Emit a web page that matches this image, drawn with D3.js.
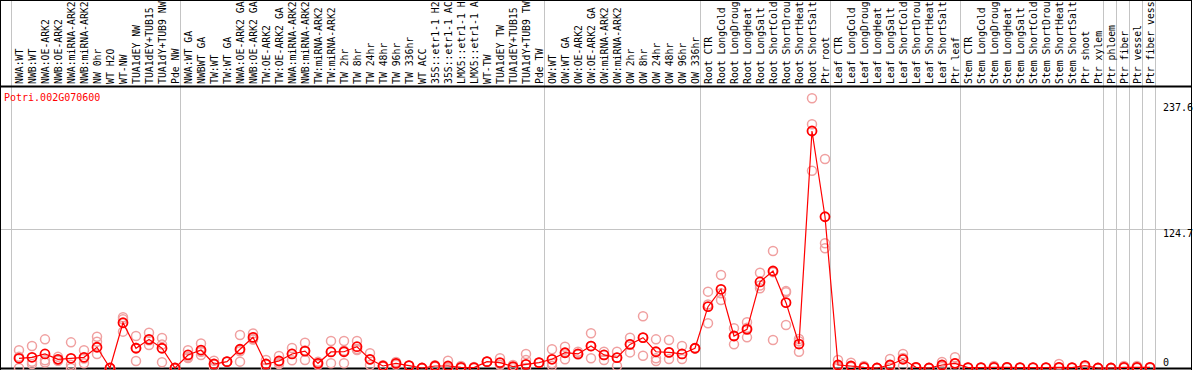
<!DOCTYPE html>
<html>
<head>
<meta charset="utf-8">
<script src="https://cdn.jsdelivr.net/npm/d3@7"></script>
<style>
  body { margin: 0; background: #fff; }
  text { font-family: "DejaVu Sans Mono", monospace; font-size: 10px; }
</style>
</head>
<body>
<div id="chart"></div>
<script>
// chart size
var width = 1194,
    height = 370

// categories (one column each, as they show in the header)
var categories = ["NWA:WT", "NWB:WT", "NWA:OE-ARK2", "NWB:OE-ARK2", "NWA:miRNA-ARK2", "NWB:miRNA-ARK2",
  "NW 0hr", "WT H2O", "WT-NW", "TUA1dEY NW", "TUA1dEY+TUB15", "TUA1dY+TUB9 NW", "Pde NW",
  "NWA:WT GA", "NWBWT GA", "TW:WT", "TW:WT GA", "NWA:OE-ARK2 GA", "NWB:OE-ARK2 GA", "TW:OE-ARK2",
  "TW:OE-ARK2 GA", "NWA:miRNA-ARK2", "NWB:miRNA-ARK2", "TW:miRNA-ARK2", "TW:miRNA-ARK2",
  "TW 2hr", "TW 8hr", "TW 24hr", "TW 48hr", "TW 96hr", "TW 336hr", "WT ACC",
  "35S::etr1-1 H2", "35S::etr1-1 AC", "LMX5::etr1-1 H", "LMX5::etr1-1 A", "WT-TW",
  "TUA1dEY TW", "TUA1dEY+TUB15", "TUA1dY+TUB9 TW", "Pde TW",
  "OW:WT", "OW:WT GA", "OW:OE-ARK2", "OW:OE-ARK2 GA", "OW:miRNA-ARK2", "OW:miRNA-ARK2",
  "OW 2hr", "OW 8hr", "OW 24hr", "OW 48hr", "OW 96hr", "OW 336hr",
  "Root CTR", "Root LongCold", "Root LongDroug", "Root LongHeat", "Root LongSalt",
  "Root ShortCold", "Root ShortDrou", "Root ShortHeat", "Root ShortSalt", "Ptr root",
  "Leaf CTR", "Leaf LongCold", "Leaf LongDroug", "Leaf LongHeat", "Leaf LongSalt",
  "Leaf ShortCold", "Leaf ShortDrou", "Leaf ShortHeat", "Leaf ShortSalt", "Ptr leaf",
  "Stem CTR", "Stem LongCold", "Stem LongDroug", "Stem LongHeat", "Stem LongSalt",
  "Stem ShortCold", "Stem ShortDrou", "Stem ShortHeat", "Stem ShortSalt", "Ptr shoot",
  "Ptr xylem", "Ptr phloem", "Ptr fiber", "Ptr vessel", "Ptr fiber vess"]

// mean expression per column
var meanValues = [8.7, 9.6, 12.6, 7.8, 8.7, 9.6, 18.6, 0, 40.6, 17.7, 25.7, 17.7, 0,
  11.7, 16.1, 3.6, 5.7, 16.8, 27.5, 3.6, 6.3, 12.6, 15.2, 4.2, 14.4, 14.6, 19.1, 7.8,
  1.8, 4.2, 2.1, 0, 1.8, 1.8, 0.6, 0.3, 5.7, 4.8, 1.2, 3.3, 4.8,
  7.8, 13.7, 12.6, 19.7, 11.7, 9.3, 21.2, 27.2, 14.6, 14, 12.6, 17.7,
  55, 70.6, 28.7, 34.7, 77.2, 87, 58.6, 21.5, 212.6, 135.7,
  2.7, 1.8, 0.6, 0, 2.7, 7.8, 0.6, 0, 2.7, 4.2,
  0.3, 0.3, 0.6, 0.6, 0.3, 0.3, 0.3, 0.6, 0.3, 2.1,
  0, 0, 0.6, 0.6, 0.5]

// replicate values
var rep1 = [16, 19.7, 25.7, 10, 23, 16, 28, 0, 45.5, 28.7, 31.7, 27, 0,
  16, 22, 6.5, 5.7, 29.6, 31, 7.2, 10.8, 18, 22.7, 5.5, 24.2, 24.2, 24.2, 13.2,
  2.4, 5.4, 2.1, 0, 2.4, 6.6, 1.8, 0.9, 5.7, 8.7, 2.7, 12.6, 4.8,
  16.8, 19.1, 14.6, 31.1, 14.6, 14.6, 27.2, 46.4, 25.7, 25.1, 19.7, 17.7,
  68.5, 83.4, 35.6, 41, 85.5, 105, 69, 26, 242, 187.5,
  7.2, 4.8, 1.8, 0, 8, 12.6, 0.6, 0, 5.4, 9.6,
  0.3, 0.3, 1.8, 0.6, 0.3, 0.3, 0.3, 3.6, 0.3, 2.1,
  0, 0, 1.8, 1.8, 0.5]
var rep2 = [0, 3.6, 7, 7, 3, 4.2, 23.5, 0, 32.6, 6.3, 20.6, 21, 0,
  9, 11.7, 3.6, 5.7, 5.7, 26, 0, 4.5, 7, 7.2, 2.9, 4.2, 4.2, 16.1, 2.7,
  1.2, 3, 2.1, 0, 1.2, 0, 0, 0, 5.7, 3, 0.9, 7.2, 4.8,
  4.2, 7.8, 12, 8.7, 7.2, 1.8, 14, 11, 8.7, 8, 8, 17.7,
  40.1, 61, 21.2, 27.5, 71.5, 25.1, 38.6, 14.6, 218.6, 111.9,
  1, 0.8, 0, 0, 0, 1.8, 0, 0, 1, 1,
  0, 0, 0, 0, 0, 0, 0, 0, 0, 1,
  0, 0, 0, 0, 0]
var rep3 = [10, 5.5, 5, 6.4, 0, 8.6, 12.6, 0, 43.7, 18.1, 24.8, 5.1, 0,
  10, 14.6, 0.7, 5.7, 15.1, 25.5, 3.6, 3.6, 12.8, 15.7, 4.2, 14.8, 15.4, 17, 7.5,
  1.8, 4.2, 2.1, 0, 1.8, 0, 0, 0, 5.7, 2.7, 0, 0, 4.8,
  2, 13.7, 12.6, 19.7, 11.7, 9.3, 21.2, 27.2, 6.3, 14, 12.6, 17.7,
  57, 67, 28.7, 36, 74, 86, 68, 24, 177, 107.4,
  2.7, 1.8, 0.6, 0, 2.7, 9, 0.6, 0, 2.7, 4.2,
  0.3, 0.3, 0.6, 0.6, 0.3, 0.3, 0.3, 0.6, 0.3, 2.1,
  0, 0, 0.6, 0.6, 0.5]

// column indices where a group separator is drawn
var separators = [0, 13, 41, 53, 63, 73, 84, 85, 86, 87, 88]

// axis tick labels
var tickValues = [0, 124.7, 237.6]
var geneName = "Potri.002G070600"

var svg = d3.select("#chart")
  .append("svg")
    .attr("width", width)
    .attr("height", height)

// x: one band per column index (some names repeat)
var x = d3.scaleBand()
  .domain(d3.range(categories.length))
  .range([11, 11 + 13 * categories.length])
  .paddingInner(0)
  .paddingOuter(0)

var px = function(i) { return x(i) + 8 }

// y: zero at bottom line, 124.7 at middle grid line
var y = d3.scaleLinear()
  .domain([0, 124.7])
  .range([368, 229])

// vertical separators
svg.selectAll('sepLines')
  .data(separators)
  .enter()
  .append('line')
    .attr('x1', function(d) { return 11 + d * x.bandwidth() + 0.5 })
    .attr('x2', function(d) { return 11 + d * x.bandwidth() + 0.5 })
    .attr('y1', 0)
    .attr('y2', 368)
    .attr('stroke', '#c4c4c4')
    .attr('stroke-width', 1)

// horizontal grid line (middle tick)
svg.append('line')
  .attr('x1', 0)
  .attr('x2', 1192)
  .attr('y1', Math.round(y(124.7)) + 0.5)
  .attr('y2', Math.round(y(124.7)) + 0.5)
  .attr('stroke', '#c4c4c4')

// frame
svg.append('line').attr('x1', 0).attr('x2', 1192).attr('y1', 0.5).attr('y2', 0.5).attr('stroke', 'black')
svg.append('line').attr('x1', 0).attr('x2', 1192).attr('y1', 86.5).attr('y2', 86.5).attr('stroke', 'black').attr('stroke-width', 2)
svg.append('line').attr('x1', 0).attr('x2', 1192).attr('y1', 368.5).attr('y2', 368.5).attr('stroke', 'black').attr('stroke-width', 2)
svg.append('line').attr('x1', 0.5).attr('x2', 0.5).attr('y1', 0).attr('y2', 370).attr('stroke', 'black')
svg.append('line').attr('x1', 1191.5).attr('x2', 1191.5).attr('y1', 0).attr('y2', 370).attr('stroke', 'black')

// category labels, rotated
svg.selectAll('catLabels')
  .data(categories)
  .enter()
  .append('text')
    .text(function(d) { return d })
    .attr('transform', function(d, i) { return 'translate(' + (x(i) + 11.5) + ',84) rotate(-90)' })
    .attr('fill', 'black')
    .style('font-size', '9.8px')

// tick labels on the right
svg.selectAll('tickLabels')
  .data(tickValues)
  .enter()
  .append('text')
    .text(function(d) { return d })
    .attr('x', 1163)
    .attr('y', function(d) { return d == 0 ? 366 : y(d) + 8 })
    .attr('fill', 'black')

// gene name
svg.append('text')
  .text(geneName)
  .attr('x', 4)
  .attr('y', 101)
  .attr('fill', 'red')

// replicate circles
var reps = []
categories.forEach(function(c, i) {
  [rep1, rep2, rep3].forEach(function(r) {
    if (r[i] != null) reps.push({ idx: i, value: r[i] })
  })
})

svg.selectAll('repDots')
  .data(reps)
  .enter()
  .append('circle')
    .attr('cx', function(d) { return px(d.idx) })
    .attr('cy', function(d) { return y(d.value) })
    .attr('r', 4.5)
    .attr('fill', 'none')
    .attr('stroke', '#f0a0a0')
    .attr('stroke-width', 1.5)

// mean line
var line = d3.line()
  .x(function(d, i) { return px(i) })
  .y(function(d) { return y(d) })

svg.append('path')
  .datum(meanValues)
  .attr('d', line)
  .attr('fill', 'none')
  .attr('stroke', 'red')
  .attr('stroke-width', 1.2)

// mean circles
svg.selectAll('meanDots')
  .data(meanValues)
  .enter()
  .append('circle')
    .attr('cx', function(d, i) { return px(i) })
    .attr('cy', function(d) { return y(d) })
    .attr('r', 4.5)
    .attr('fill', 'none')
    .attr('stroke', 'red')
    .attr('stroke-width', 1.8)
</script>
</body>
</html>
